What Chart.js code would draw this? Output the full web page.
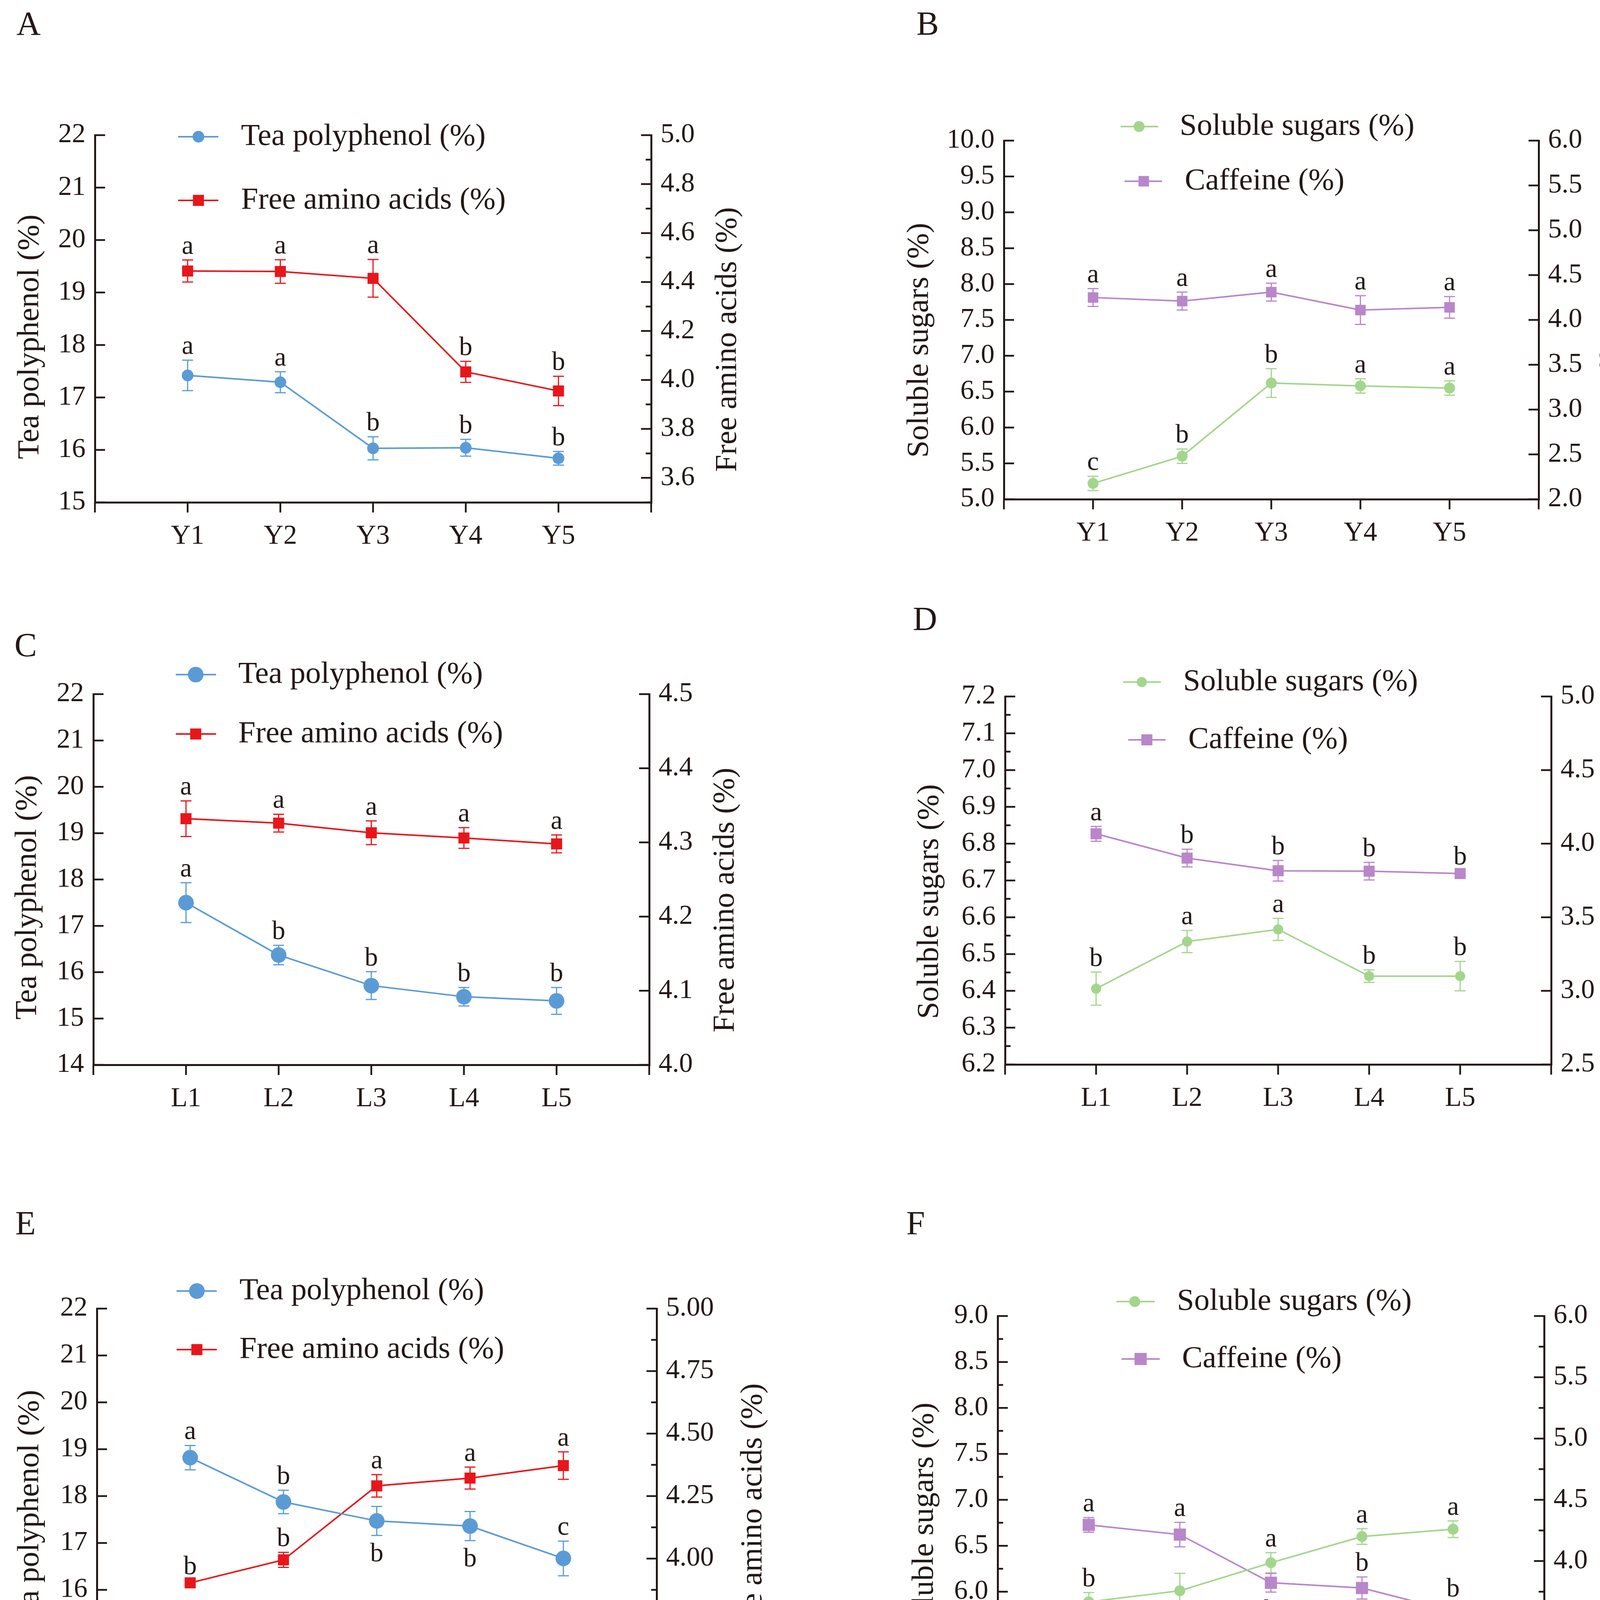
<!DOCTYPE html>
<html>
<head>
<meta charset="utf-8">
<script src="https://cdn.jsdelivr.net/npm/chart.js@4.4.0/dist/chart.umd.min.js"></script>
<style>
html, body { margin: 0; padding: 0; background: #fff; }
body { width: 4215px; height: 4421px; position: relative; overflow: hidden; }
canvas { position: absolute; }
.tag { position: absolute; font-family: "Liberation Serif", serif; font-size: 86px; line-height: 1; color: #231815; }
</style>
</head>
<body>
<div class="tag" style="left:42px;top:17px">A</div>
<div class="tag" style="left:2346px;top:17px">B</div>
<div class="tag" style="left:37px;top:1608px">C</div>
<div class="tag" style="left:2337px;top:1541px">D</div>
<div class="tag" style="left:39px;top:3088px">E</div>
<div class="tag" style="left:2320px;top:3088px">F</div>
<canvas id="panelA"></canvas>
<canvas id="panelB"></canvas>
<canvas id="panelC"></canvas>
<canvas id="panelD"></canvas>
<canvas id="panelE"></canvas>
<canvas id="panelF"></canvas>
<script>
// categories
const catsY = ['Y1', 'Y2', 'Y3', 'Y4', 'Y5'];
const catsL = ['L1', 'L2', 'L3', 'L4', 'L5'];
const catsR = ['R1', 'R2', 'R3', 'R4', 'R5'];

// A
const aTea = [17.42, 17.29, 16.03, 16.04, 15.84];
const aTeaErr = [0.29, 0.20, 0.22, 0.16, 0.13];
const aTeaSig = ['a', 'a', 'b', 'b', 'b'];
const aAmino = [4.445, 4.443, 4.415, 4.033, 3.955];
const aAminoErr = [0.045, 0.048, 0.077, 0.043, 0.06];
const aAminoSig = ['a', 'a', 'a', 'b', 'b'];

// B
const bSugar = [5.22, 5.60, 6.62, 6.58, 6.55];
const bSugarErr = [0.10, 0.10, 0.20, 0.10, 0.10];
const bSugarSig = ['c', 'b', 'b', 'a', 'a'];
const bCaff = [4.25, 4.21, 4.31, 4.11, 4.14];
const bCaffErr = [0.10, 0.10, 0.10, 0.16, 0.12];
const bCaffSig = ['a', 'a', 'a', 'a', 'a'];

// C
const cTea = [17.50, 16.37, 15.71, 15.47, 15.38];
const cTeaErr = [0.43, 0.21, 0.30, 0.20, 0.29];
const cTeaSig = ['a', 'b', 'b', 'b', 'b'];
const cAmino = [4.332, 4.326, 4.313, 4.306, 4.298];
const cAminoErr = [0.024, 0.012, 0.016, 0.014, 0.012];
const cAminoSig = ['a', 'a', 'a', 'a', 'a'];

// D
const dSugar = [6.406, 6.534, 6.567, 6.440, 6.440];
const dSugarErr = [0.045, 0.03, 0.03, 0.017, 0.04];
const dSugarSig = ['b', 'a', 'a', 'b', 'b'];
const dCaff = [4.067, 3.902, 3.816, 3.813, 3.797];
const dCaffErr = [0.05, 0.06, 0.07, 0.06, 0.02];
const dCaffSig = ['a', 'b', 'b', 'b', 'b'];

// E
const eTea = [18.82, 17.875, 17.47, 17.36, 16.67];
const eTeaErr = [0.26, 0.25, 0.31, 0.31, 0.37];
const eTeaSig = ['a', 'b', 'b', 'b', 'c'];
const eTeaSigPos = ['up', 'up', 'down', 'down', 'up'];
const eAmino = [3.903, 3.995, 4.291, 4.322, 4.372];
const eAminoErr = [0.01, 0.03, 0.045, 0.044, 0.055];
const eAminoSig = ['b', 'b', 'a', 'a', 'a'];

// F
const fSugar = [5.89, 6.01, 6.315, 6.60, 6.68];
const fSugarErr = [0.10, 0.19, 0.11, 0.085, 0.09];
const fSugarSig = ['b', 'b', 'a', 'a', 'a'];
const fSugarSigPos = ['up', 'down', 'up', 'up', 'up'];
const fCaff = [4.295, 4.216, 3.823, 3.78, 3.59];
const fCaffErr = [0.06, 0.10, 0.076, 0.09, 0.07];
const fCaffSig = ['a', 'a', 'b', 'b', 'b'];
const fCaffSigPos = ['up', 'up', 'down', 'up', 'up'];

// tick labels
const ticksTea = [14, 15, 16, 17, 18, 19, 20, 21, 22];
const ticksTeaA = [15, 16, 17, 18, 19, 20, 21, 22];
const ticksAminoA = [3.6, 3.8, 4.0, 4.2, 4.4, 4.6, 4.8, 5.0];
const ticksSugarB = [5.0, 5.5, 6.0, 6.5, 7.0, 7.5, 8.0, 8.5, 9.0, 9.5, 10.0];
const ticksCaffB = [2.0, 2.5, 3.0, 3.5, 4.0, 4.5, 5.0, 5.5, 6.0];
const ticksAminoC = [4.0, 4.1, 4.2, 4.3, 4.4, 4.5];
const ticksSugarD = [6.2, 6.3, 6.4, 6.5, 6.6, 6.7, 6.8, 6.9, 7.0, 7.1, 7.2];
const ticksCaffD = [2.5, 3.0, 3.5, 4.0, 4.5, 5.0];
const ticksAminoE = [3.50, 3.75, 4.00, 4.25, 4.50, 4.75, 5.00];
const ticksSugarF = [5.0, 5.5, 6.0, 6.5, 7.0, 7.5, 8.0, 8.5, 9.0];
const ticksCaffF = [3.0, 3.5, 4.0, 4.5, 5.0, 5.5, 6.0];

const INK = '#231815';
const FONT = '"Liberation Serif", "Times New Roman", serif';
const BLUE = '#5b9bd5';
const RED = '#e8161b';
const GREEN = '#a3d68c';
const PURPLE = '#b986c9';

function makeDeco(p) {
    const toX = v => v - p.box.x;
    const toY = v => v - p.box.y;
    return {
        id: 'deco',
        beforeDatasetsDraw(chart) {
            const ctx = chart.ctx;
            ctx.save();
            chart.data.datasets.forEach((ds, di) => {
                const meta = chart.getDatasetMeta(di);
                const sc = chart.scales[ds.yAxisID];
                ctx.strokeStyle = ds.borderColor;
                ctx.lineWidth = 3;
                meta.data.forEach((pt, i) => {
                    const v = ds.data[i].y, e = ds.errors[i];
                    const yt = sc.getPixelForValue(v + e), yb = sc.getPixelForValue(v - e);
                    ctx.beginPath();
                    ctx.moveTo(pt.x, yt); ctx.lineTo(pt.x, yb);
                    ctx.moveTo(pt.x - 14, yt); ctx.lineTo(pt.x + 14, yt);
                    ctx.moveTo(pt.x - 14, yb); ctx.lineTo(pt.x + 14, yb);
                    ctx.stroke();
                });
            });
            ctx.restore();
        },
        afterDatasetsDraw(chart) {
            const ctx = chart.ctx;
            ctx.save();
            ctx.fillStyle = INK;
            ctx.font = '68px ' + FONT;
            ctx.textAlign = 'center';
            ctx.textBaseline = 'alphabetic';
            chart.data.datasets.forEach((ds, di) => {
                const meta = chart.getDatasetMeta(di);
                const sc = chart.scales[ds.yAxisID];
                meta.data.forEach((pt, i) => {
                    const v = ds.data[i].y, e = ds.errors[i];
                    if (ds.sigPos[i] === 'down') {
                        ctx.fillText(ds.sig[i], pt.x, sc.getPixelForValue(v - e) + 66);
                    } else {
                        ctx.fillText(ds.sig[i], pt.x, sc.getPixelForValue(v + e) - 16);
                    }
                });
            });
            ctx.restore();
        },
        afterDraw(chart) {
            const ctx = chart.ctx;
            const xs = chart.scales.x;
            ctx.save();
            ctx.strokeStyle = INK;
            ctx.lineWidth = 4.5;
            ctx.beginPath();
            for (let v = xs.min; v <= xs.max; v++) {
                const px = xs.getPixelForValue(v);
                ctx.moveTo(px, xs.top); ctx.lineTo(px, xs.top + 26);
            }
            [['y', 1], ['y1', -1]].forEach(([id, dir]) => {
                const sc = chart.scales[id];
                const ax = id === 'y' ? p.left : p.right;
                const x0 = id === 'y' ? sc.right : sc.left;
                sc.ticks.forEach(t => {
                    const py = sc.getPixelForValue(t.value);
                    ctx.moveTo(x0, py); ctx.lineTo(x0 + dir * 26, py);
                });
                if (ax.minor) {
                    const n = Math.round((ax.max - ax.min) / ax.minor);
                    for (let k = 0; k <= n; k++) {
                        const v = ax.min + k * ax.minor;
                        if (ax.ticks.some(t => Math.abs(t - v) < 1e-6)) continue;
                        const py = sc.getPixelForValue(v);
                        ctx.moveTo(x0, py); ctx.lineTo(x0 + dir * 14, py);
                    }
                }
            });
            ctx.stroke();

            // axis titles, reading bottom to top
            ctx.fillStyle = INK;
            ctx.font = '79px ' + FONT;
            ctx.textAlign = 'center';
            ctx.textBaseline = 'middle';
            [p.left, p.right].forEach(ax => {
                ctx.save();
                ctx.translate(toX(ax.tx), toY(ax.ty));
                ctx.rotate(-Math.PI / 2);
                ctx.fillText(ax.title, 0, 0);
                ctx.restore();
            });

            // legend
            ctx.textAlign = 'left';
            p.series.forEach(s => {
                const lg = s.legend;
                const y = toY(lg.y);
                ctx.strokeStyle = s.color;
                ctx.lineWidth = 4;
                ctx.beginPath();
                ctx.moveTo(toX(lg.x0), y); ctx.lineTo(toX(lg.x1), y);
                ctx.stroke();
                ctx.fillStyle = s.color;
                const mx = toX(lg.mx);
                if (s.style === 'circle') {
                    ctx.beginPath();
                    ctx.arc(mx, y, s.radius, 0, Math.PI * 2);
                    ctx.fill();
                } else {
                    const h = s.radius * Math.SQRT1_2;
                    ctx.fillRect(mx - h, y - h, 2 * h, 2 * h);
                }
                ctx.fillStyle = INK;
                ctx.fillText(s.label, toX(lg.tx), y);
            });
            ctx.restore();
        }
    };
}

function yAxis(ax, position, width) {
    return {
        type: 'linear',
        position: position,
        min: ax.min,
        max: ax.max,
        afterBuildTicks: s => { s.ticks = ax.ticks.map(v => ({ value: v })); },
        afterFit: s => { s.width = width; },
        ticks: {
            callback: v => v.toFixed(ax.dec),
            font: { family: FONT, size: 70 },
            color: INK,
            padding: 24
        },
        grid: { display: true, drawOnChartArea: false, drawTicks: false, lineWidth: 5, color: INK },
        border: { display: true, color: INK, width: 5 }
    };
}

function makePanel(p) {
    const cv = document.getElementById(p.id);
    cv.width = p.box.w;
    cv.height = p.box.h;
    cv.style.left = p.box.x + 'px';
    cv.style.top = p.box.y + 'px';
    const a = p.area;
    const datasets = p.series.map(s => ({
        label: s.label,
        data: s.values.map((v, i) => ({ x: i + 1, y: v })),
        yAxisID: s.axis,
        borderColor: s.color,
        backgroundColor: s.color,
        borderWidth: 4,
        pointStyle: s.style,
        pointRadius: s.radius,
        pointBorderWidth: 0,
        pointBackgroundColor: s.color,
        tension: 0,
        errors: s.errors,
        sig: s.sig,
        sigPos: s.sigPos || s.sig.map(() => 'up')
    }));
    new Chart(cv, {
        type: 'line',
        data: { datasets: datasets },
        options: {
            responsive: false,
            animation: false,
            devicePixelRatio: 1,
            layout: { autoPadding: false, padding: { top: a.top - p.box.y, left: 0, right: 0, bottom: 0 } },
            plugins: { legend: { display: false }, tooltip: { enabled: false } },
            scales: {
                x: {
                    type: 'linear',
                    min: 0,
                    max: p.cats.length + 1,
                    afterBuildTicks: s => { s.ticks = p.cats.map((c, i) => ({ value: i + 1 })); },
                    afterFit: s => { s.height = p.box.y + p.box.h - a.bottom; },
                    ticks: {
                        callback: v => p.cats[v - 1],
                        font: { family: FONT, size: 70 },
                        color: INK,
                        padding: 46,
                        maxRotation: 0
                    },
                    grid: { display: true, drawOnChartArea: false, drawTicks: false, lineWidth: 5, color: INK },
                    border: { display: true, color: INK, width: 5 }
                },
                y: yAxis(p.left, 'left', a.left - p.box.x),
                y1: yAxis(p.right, 'right', p.box.x + p.box.w - a.right)
            }
        },
        plugins: [makeDeco(p)]
    });
}

makePanel({
    id: 'panelA', cats: catsY,
    box: { x: 0, y: 0, w: 2100, h: 1480 },
    area: { left: 243, right: 1667, top: 346, bottom: 1286 },
    left: { min: 15, max: 22, ticks: ticksTeaA, dec: 0, title: 'Tea polyphenol (%)', tx: 77, ty: 862 },
    right: { min: 3.5, max: 5.0, ticks: ticksAminoA, dec: 1, minor: 0.1, title: 'Free amino acids (%)', tx: 1863, ty: 869 },
    series: [
        { label: 'Tea polyphenol (%)', values: aTea, errors: aTeaErr, sig: aTeaSig, axis: 'y', color: BLUE, style: 'circle', radius: 15,
          legend: { y: 350, x0: 456, x1: 559, mx: 508, tx: 617 } },
        { label: 'Free amino acids (%)', values: aAmino, errors: aAminoErr, sig: aAminoSig, axis: 'y1', color: RED, style: 'rect', radius: 20,
          legend: { y: 513, x0: 456, x1: 559, mx: 508, tx: 617 } }
    ]
});

makePanel({
    id: 'panelB', cats: catsY,
    box: { x: 2100, y: 0, w: 2115, h: 1480 },
    area: { left: 2570, right: 3939, top: 360, bottom: 1278 },
    left: { min: 5, max: 10, ticks: ticksSugarB, dec: 1, title: 'Soluble sugars (%)', tx: 2354, ty: 871 },
    right: { min: 2, max: 6, ticks: ticksCaffB, dec: 1, title: 'Caffeine (%)', tx: 4129, ty: 839 },
    series: [
        { label: 'Soluble sugars (%)', values: bSugar, errors: bSugarErr, sig: bSugarSig, axis: 'y', color: GREEN, style: 'circle', radius: 14,
          legend: { y: 324, x0: 2869, x1: 2965, mx: 2916, tx: 3020 } },
        { label: 'Caffeine (%)', values: bCaff, errors: bCaffErr, sig: bCaffSig, axis: 'y1', color: PURPLE, style: 'rect', radius: 19,
          legend: { y: 464, x0: 2879, x1: 2975, mx: 2928, tx: 3033 } }
    ]
});

makePanel({
    id: 'panelC', cats: catsL,
    box: { x: 0, y: 1480, w: 2100, h: 1480 },
    area: { left: 239, right: 1662, top: 1777, bottom: 2726 },
    left: { min: 14, max: 22, ticks: ticksTea, dec: 0, title: 'Tea polyphenol (%)', tx: 71, ty: 2297 },
    right: { min: 4.0, max: 4.5, ticks: ticksAminoC, dec: 1, title: 'Free amino acids (%)', tx: 1857, ty: 2304 },
    series: [
        { label: 'Tea polyphenol (%)', values: cTea, errors: cTeaErr, sig: cTeaSig, axis: 'y', color: BLUE, style: 'circle', radius: 20,
          legend: { y: 1727, x0: 450, x1: 553, mx: 501, tx: 610 } },
        { label: 'Free amino acids (%)', values: cAmino, errors: cAminoErr, sig: cAminoSig, axis: 'y1', color: RED, style: 'rect', radius: 20,
          legend: { y: 1879, x0: 450, x1: 553, mx: 501, tx: 610 } }
    ]
});

makePanel({
    id: 'panelD', cats: catsL,
    box: { x: 2100, y: 1480, w: 2115, h: 1480 },
    area: { left: 2573, right: 3971, top: 1783, bottom: 2725 },
    left: { min: 6.2, max: 7.2, ticks: ticksSugarD, dec: 1, minor: 0.05, title: 'Soluble sugars (%)', tx: 2380, ty: 2308 },
    right: { min: 2.5, max: 5.0, ticks: ticksCaffD, dec: 1, title: 'Caffeine (%)', tx: 4161, ty: 2277 },
    series: [
        { label: 'Soluble sugars (%)', values: dSugar, errors: dSugarErr, sig: dSugarSig, axis: 'y', color: GREEN, style: 'circle', radius: 13,
          legend: { y: 1746, x0: 2875, x1: 2972, mx: 2923, tx: 3029 } },
        { label: 'Caffeine (%)', values: dCaff, errors: dCaffErr, sig: dCaffSig, axis: 'y1', color: PURPLE, style: 'rect', radius: 20,
          legend: { y: 1894, x0: 2888, x1: 2984, mx: 2936, tx: 3042 } }
    ]
});

makePanel({
    id: 'panelE', cats: catsR,
    box: { x: 0, y: 2960, w: 2100, h: 1461 },
    area: { left: 248, right: 1681, top: 3350, bottom: 4310 },
    left: { min: 14, max: 22, ticks: ticksTea, dec: 0, title: 'Tea polyphenol (%)', tx: 77, ty: 3871 },
    right: { min: 3.5, max: 5.0, ticks: ticksAminoE, dec: 2, minor: 0.125, title: 'Free amino acids (%)', tx: 1928, ty: 3880 },
    series: [
        { label: 'Tea polyphenol (%)', values: eTea, errors: eTeaErr, sig: eTeaSig, sigPos: eTeaSigPos, axis: 'y', color: BLUE, style: 'circle', radius: 20,
          legend: { y: 3305, x0: 452, x1: 555, mx: 504, tx: 613 } },
        { label: 'Free amino acids (%)', values: eAmino, errors: eAminoErr, sig: eAminoSig, axis: 'y1', color: RED, style: 'rect', radius: 20,
          legend: { y: 3455, x0: 452, x1: 555, mx: 504, tx: 613 } }
    ]
});

makePanel({
    id: 'panelF', cats: catsR,
    box: { x: 2100, y: 2960, w: 2115, h: 1461 },
    area: { left: 2554, right: 3953, top: 3369, bottom: 4310 },
    left: { min: 5, max: 9, ticks: ticksSugarF, dec: 1, minor: 0.25, title: 'Soluble sugars (%)', tx: 2367, ty: 3891 },
    right: { min: 3, max: 6, ticks: ticksCaffF, dec: 1, minor: 0.25, title: 'Caffeine (%)', tx: 4135, ty: 3860 },
    series: [
        { label: 'Soluble sugars (%)', values: fSugar, errors: fSugarErr, sig: fSugarSig, sigPos: fSugarSigPos, axis: 'y', color: GREEN, style: 'circle', radius: 14,
          legend: { y: 3332, x0: 2858, x1: 2956, mx: 2905, tx: 3013 } },
        { label: 'Caffeine (%)', values: fCaff, errors: fCaffErr, sig: fCaffSig, sigPos: fCaffSigPos, axis: 'y1', color: PURPLE, style: 'rect', radius: 22,
          legend: { y: 3479, x0: 2871, x1: 2969, mx: 2920, tx: 3026 } }
    ]
});
</script>
</body>
</html>
